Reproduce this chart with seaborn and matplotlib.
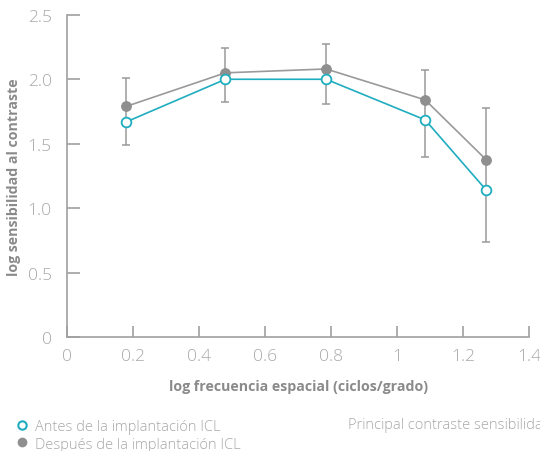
import numpy as np
import pandas as pd
import matplotlib.pyplot as plt
import seaborn as sns
from matplotlib.lines import Line2D

# ---- data ----
freq = [0.18, 0.48, 0.785, 1.085, 1.27]
antes = [1.67, 2.00, 2.00, 1.685, 1.14]
despues = [1.79, 2.05, 2.08, 1.84, 1.375]
err_low = [1.49, 1.82, 1.81, 1.40, 0.74]
err_high = [2.01, 2.24, 2.27, 2.07, 1.78]

x_ticks = [0, 0.2, 0.4, 0.6, 0.8, 1, 1.2, 1.4]
x_labels = ["0", "0.2", "0.4", "0.6", "0.8", "1", "1.2", "1.4"]
y_ticks = [0, 0.5, 1.0, 1.5, 2.0, 2.5]
y_labels = ["0", "0.5", "1.0", "1.5", "2.0", "2.5"]

teal = "#1fadbf"
grey = "#8f8f8f"
text_grey = "#a8a8a8"

sns.set_style("white")
plt.rcParams["font.family"] = ["Open Sans", "DejaVu Sans"]

df = pd.DataFrame({"freq": freq, "antes": antes, "despues": despues})

fig = plt.figure(figsize=(5.4, 4.52), dpi=100)
ax = fig.add_axes([0.124, 0.252, 0.856, 0.713])

# error bars (vertical line with caps)
yc = np.array(antes)
ax.errorbar(freq, yc, yerr=[yc - np.array(err_low), np.array(err_high) - yc],
            fmt="none", ecolor="#9a9a9a", elinewidth=1.1, capsize=3, capthick=1.1, zorder=1)

sns.lineplot(data=df, x="freq", y="despues", ax=ax, color="#9a9a9a", linewidth=1.2,
             marker="o", markersize=7, markerfacecolor=grey, markeredgecolor=grey, zorder=2)
sns.lineplot(data=df, x="freq", y="antes", ax=ax, color=teal, linewidth=1.2,
             marker="o", markersize=7, markerfacecolor="white", markeredgecolor=teal,
             markeredgewidth=1.3, zorder=3)

ax.set_xlim(0, 1.4)
ax.set_ylim(0, 2.5)
ax.set_xticks(x_ticks)
ax.set_xticklabels(x_labels)
ax.set_yticks(y_ticks)
ax.set_yticklabels(y_labels)

for s in ["top", "right"]:
    ax.spines[s].set_visible(False)
for s in ["left", "bottom"]:
    ax.spines[s].set_color("#a0a0a0")
    ax.spines[s].set_linewidth(1.2)

ax.tick_params(axis="y", direction="in", length=9, width=1.2, color="#a0a0a0",
               labelsize=12.5, labelcolor=text_grey, pad=11, left=True)
ax.tick_params(axis="x", direction="in", length=8, width=1.2, color="#a0a0a0",
               labelsize=12.5, labelcolor=text_grey, pad=8, bottom=True)
for lab in ax.get_xticklabels() + ax.get_yticklabels():
    lab.set_fontweight("light")

ax.set_xlabel("log frecuencia espacial (ciclos/grado)", fontsize=10.2, fontweight="bold",
              color="#8a8a8a", labelpad=11)
ax.set_ylabel("log sensibilidad al contraste", fontsize=10.2, fontweight="bold",
              color="#8a8a8a", labelpad=5)

handles = [
    Line2D([], [], linestyle="none", marker="o", markersize=6, markerfacecolor="white",
           markeredgecolor=teal, markeredgewidth=1.5),
    Line2D([], [], linestyle="none", marker="o", markersize=6, markerfacecolor=grey,
           markeredgecolor=grey),
]
leg = fig.legend(handles, ["Antes de la implantación ICL", "Después de la implantación ICL"],
                 loc="upper left", bbox_to_anchor=(0.014, 0.083), frameon=False,
                 fontsize=10.5, handletextpad=0.25, labelspacing=0.15, handlelength=1.2,
                 borderaxespad=0)
for t in leg.get_texts():
    t.set_color(text_grey)
    t.set_fontweight("light")

fig.text(348 / 540, 1 - 426 / 452, "Principal contraste sensibilidad", fontsize=10.5,
         color=text_grey, va="center", ha="left", fontweight="light")

fig.savefig("out.png", dpi=100)
